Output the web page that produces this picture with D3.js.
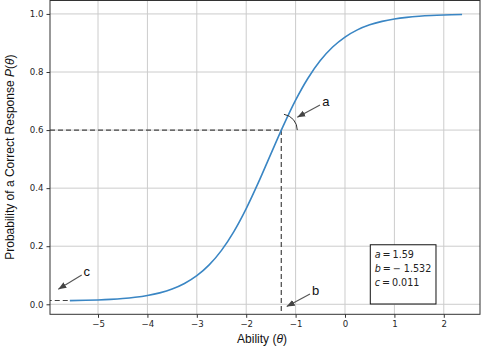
<!DOCTYPE html>
<html><head><meta charset="utf-8">
<script src="https://cdn.jsdelivr.net/npm/d3@7"></script>
<style>body{margin:0;background:#fff} svg{display:block}</style>
</head><body><svg id="c" width="482" height="346"></svg>
<script>
// Curve
const theta = [-5.57,-5.25,-5.0,-4.75,-4.5,-4.25,-4.0,-3.75,-3.5,-3.25,-3.0,-2.75,-2.5,-2.25,-2.0,-1.75,-1.5,-1.25,-1.0,-0.75,-0.5,-0.25,0.0,0.25,0.5,0.75,1.0,1.25,1.5,1.75,2.0,2.37];
const prob  = [0.0127,0.0137,0.0150,0.0169,0.0197,0.0240,0.0302,0.0393,0.0525,0.0715,0.0984,0.1356,0.1857,0.2503,0.3295,0.4205,0.5181,0.6144,0.7030,0.7786,0.8394,0.8860,0.9204,0.9451,0.9624,0.9744,0.9827,0.9883,0.9921,0.9947,0.9964,0.9979];
const xTicks = [-5,-4,-3,-2,-1,0,1,2];
const yTicks = [0.0,0.2,0.4,0.6,0.8,1.0];
const paramNames = ["a","b","c"];
const paramValues = ["1.59","\u2212 1.532","0.011"];
const guideTheta = -1.29, guideP = 0.60;
const cLevel = 0.013, cStart = -6.2;
const notes = [
  {label:"a", tx:-0.385, tp:0.700, x0:-0.506, p0:0.6866, x1:-0.966, p1:0.644},
  {label:"b", tx:-0.593, tp:0.049, x0:-0.709, p0:0.0355, x1:-1.18, p1:-0.008},
  {label:"c", tx:-5.229, tp:0.112, x0:-5.33, p0:0.101, x1:-5.804, p1:0.052}
];
const boxTheta = [0.512, 1.842], boxP = [0.205, 0.001];

const svg = d3.select("#c");
const L = 50, R = 480, T = 0, B = 314.3;
const x = d3.scaleLinear().domain([-5.972, 2.733]).range([L, R]);
const y = d3.scaleLinear().domain([-0.0345, 1.048]).range([B, T]);

svg.append("defs").append("clipPath").attr("id","clip")
  .append("rect").attr("x",L).attr("y",T).attr("width",R-L).attr("height",B-T);
const defs = svg.select("defs");
defs.append("marker").attr("id","ah").attr("viewBox","0 0 10 10")
  .attr("refX",10).attr("refY",5).attr("markerWidth",8).attr("markerHeight",8)
  .attr("markerUnits","userSpaceOnUse").attr("orient","auto")
  .append("path").attr("d","M0,1 L10,5 L0,9 Z").attr("fill","#444");

// grid
const g = svg.append("g");
g.selectAll(".gx").data(xTicks).join("line")
  .attr("x1",d=>x(d)).attr("x2",d=>x(d)).attr("y1",T).attr("y2",B)
  .attr("stroke","#cccccc").attr("stroke-width",1);
g.selectAll(".gy").data(yTicks).join("line")
  .attr("y1",d=>y(d)).attr("y2",d=>y(d)).attr("x1",L).attr("x2",R)
  .attr("stroke","#cccccc").attr("stroke-width",1);

// axes
const fmtX = d => d < 0 ? "\u2212" + Math.abs(d) : String(d);
const ax = svg.append("g").attr("transform",`translate(0,${B})`)
  .call(d3.axisBottom(x).tickValues(xTicks).tickFormat(fmtX).tickSize(3.5).tickPadding(3));
const ay = svg.append("g").attr("transform",`translate(${L},0)`)
  .call(d3.axisLeft(y).tickValues(yTicks).tickFormat(d3.format(".1f")).tickSize(3.5).tickPadding(3));
[ax, ay].forEach(a => {
  a.select(".domain").remove();
  a.selectAll("line").attr("stroke","#333");
  a.selectAll("text").attr("font-family","DejaVu Sans").attr("font-size","8.6px").attr("fill","#262626");
});

const plot = svg.append("g").attr("clip-path","url(#clip)");
// dashed guides
plot.append("line").attr("x1",L).attr("x2",x(guideTheta)).attr("y1",y(guideP)).attr("y2",y(guideP))
  .attr("stroke","#444").attr("stroke-width",1.2).attr("stroke-dasharray","5,3");
plot.append("line").attr("x1",x(guideTheta)).attr("x2",x(guideTheta)).attr("y1",y(guideP)).attr("y2",B)
  .attr("stroke","#444").attr("stroke-width",1.2).attr("stroke-dasharray","5,3");
plot.append("line").attr("x1",x(cStart)).attr("x2",x(theta[0])).attr("y1",y(cLevel)).attr("y2",y(cLevel))
  .attr("stroke","#444").attr("stroke-width",1.2).attr("stroke-dasharray","5,3");

// curve
const pts = theta.map((t,i)=>[t,prob[i]]);
plot.append("path").datum(pts)
  .attr("d", d3.line().x(d=>x(d[0])).y(d=>y(d[1])).curve(d3.curveMonotoneX))
  .attr("fill","none").attr("stroke","#3a86c4").attr("stroke-width",1.6);

// angle arc for a
const cx = x(guideTheta), cy = y(guideP), rr = 16;
const ang = Math.atan2(-(y(-0.75)-y(-1.75)), x(-0.75)-x(-1.75));
const arcPath = d3.path();
arcPath.arc(cx, cy, rr, 0, -Math.abs(ang), true);
svg.append("path").attr("d", arcPath.toString()).attr("fill","none").attr("stroke","#333").attr("stroke-width",1);

// annotations
notes.forEach(n => {
  svg.append("line").attr("x1",x(n.x0)).attr("y1",y(n.p0)).attr("x2",x(n.x1)).attr("y2",y(n.p1))
    .attr("stroke","#555").attr("stroke-width",1.1).attr("marker-end","url(#ah)");
  svg.append("text").attr("x",x(n.tx)).attr("y",y(n.tp)).attr("dy","0.35em")
    .attr("text-anchor","middle").attr("font-family","Liberation Sans, Arial").attr("font-size","13px")
    .attr("fill","#111").text(n.label);
});

// spines
svg.append("rect").attr("x",L).attr("y",T+0.5).attr("width",R-L).attr("height",B-T-0.5)
  .attr("fill","none").attr("stroke","#333").attr("stroke-width",1);

// parameter box
svg.append("rect").attr("x",x(boxTheta[0])).attr("y",y(boxP[0]))
  .attr("width",x(boxTheta[1])-x(boxTheta[0])).attr("height",y(boxP[1])-y(boxP[0]))
  .attr("fill","#fff").attr("stroke","#111").attr("stroke-width",1);
paramNames.forEach((nm,i) => {
  const t = svg.append("text").attr("x",x(boxTheta[0])+4.5).attr("y",y(boxP[0])+10.3+13.7*i).attr("dy","0.35em")
    .attr("font-family","DejaVu Sans").attr("font-size","9.6px").attr("fill","#222");
  t.append("tspan").attr("font-style","italic").text(nm);
  t.append("tspan").text("\u2009=\u2009" + paramValues[i]);
});

// axis labels
svg.append("text").attr("x",(L+R)/2-3).attr("y",339).attr("dy","0.35em").attr("text-anchor","middle")
  .attr("font-family","Liberation Sans, Arial").attr("font-size","12px").attr("fill","#111")
  .html('Ability (<tspan font-style="italic">θ</tspan>)');
svg.append("text").attr("transform",`translate(10,${(T+B)/2}) rotate(-90)`).attr("dy","0.35em").attr("text-anchor","middle")
  .attr("font-family","Liberation Sans, Arial").attr("font-size","12px").attr("fill","#111")
  .html('Probability of a Correct Response <tspan font-style="italic">P</tspan>(<tspan font-style="italic">θ</tspan>)');
</script></body></html>
